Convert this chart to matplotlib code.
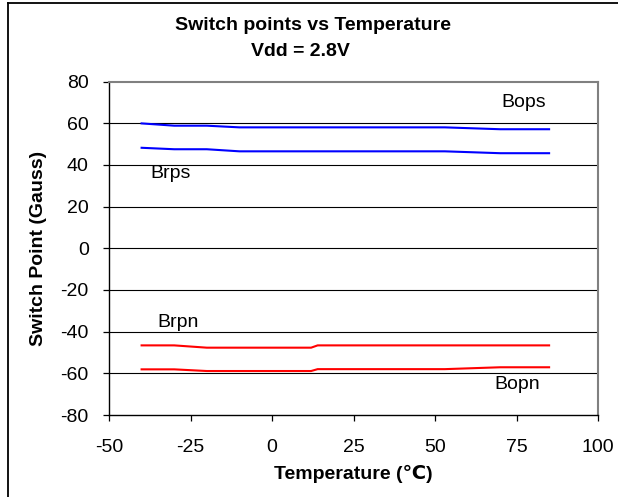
import matplotlib
matplotlib.use("Agg")
import matplotlib.pyplot as plt
from matplotlib.lines import Line2D

plt.rcParams['font.family'] = ['Liberation Sans', 'DejaVu Sans']

temps = [-40, -30, -20, -10, 12, 14, 53, 70, 85]
bops = [59.9, 58.8, 58.8, 58.0, 58.0, 58.0, 58.0, 57.1, 57.1]
brps = [48.2, 47.5, 47.5, 46.5, 46.5, 46.5, 46.5, 45.6, 45.6]
brpn = [-46.6, -46.6, -47.7, -47.7, -47.7, -46.6, -46.6, -46.6, -46.6]
bopn = [-58.1, -58.1, -58.9, -58.9, -58.9, -58.0, -58.0, -57.1, -57.1]

xticks = [-50, -25, 0, 25, 50, 75, 100]
yticks = [-80, -60, -40, -20, 0, 20, 40, 60, 80]

W, H = 618, 497
fig = plt.figure(figsize=(W / 100, H / 100), dpi=100)
fig.patch.set_facecolor('white')

# chart-area border (only left and top visible)
fig.add_artist(Line2D([8 / W, 8 / W], [0, 1 - 3 / H], transform=fig.transFigure, color='black', lw=1.3))
fig.add_artist(Line2D([8 / W, 1], [1 - 3 / H, 1 - 3 / H], transform=fig.transFigure, color='black', lw=1.3))

ax = fig.add_axes([109 / W, 1 - 415 / H, (598 - 109) / W, (415 - 81.5) / H])
ax.set_xlim(-50, 100)
ax.set_ylim(-80, 80)
ax.set_xticks(xticks)
ax.set_yticks(yticks)
ax.set_xticklabels([str(v) for v in xticks])
ax.set_yticklabels([str(v) for v in yticks])

for y in yticks[1:-1]:
    ax.axhline(y, color='black', lw=0.8, zorder=1)

ax.plot(temps, bops, color='#0000FF', lw=1.5, zorder=3)
ax.plot(temps, brps, color='#0000FF', lw=1.5, zorder=3)
ax.plot(temps, brpn, color='#FF0000', lw=1.5, zorder=3)
ax.plot(temps, bopn, color='#FF0000', lw=1.5, zorder=3)

ax.text(77.3, 69.7, 'Bops', fontsize=14, ha='center', va='center')
ax.text(-31, 36, 'Brps', fontsize=14, ha='center', va='center')
ax.text(-28.8, -35.4, 'Brpn', fontsize=14, ha='center', va='center')
ax.text(75.3, -65.6, 'Bopn', fontsize=14, ha='center', va='center')

for s in ['top', 'right']:
    ax.spines[s].set_color('#808080')
    ax.spines[s].set_linewidth(1.5)
for s in ['left', 'bottom']:
    ax.spines[s].set_color('black')
    ax.spines[s].set_linewidth(1.0)

ax.tick_params(axis='both', direction='out', length=4.5, width=0.9, labelsize=14, color='black')
ax.tick_params(axis='y', pad=10)
ax.tick_params(axis='x', pad=13)

ax.set_xlabel('Temperature (℃)', fontsize=14, fontweight='bold', labelpad=6)
ax.set_ylabel('Switch Point (Gauss)', fontsize=14, fontweight='bold', labelpad=10)

fig.text(313 / W, 1 - 26 / H, 'Switch points vs Temperature', fontsize=14, fontweight='bold', ha='center', va='center')
fig.text(300 / W, 1 - 52 / H, 'Vdd = 2.8V', fontsize=14, fontweight='bold', ha='center', va='center')

fig.savefig('out.png', dpi=100, facecolor='white')
